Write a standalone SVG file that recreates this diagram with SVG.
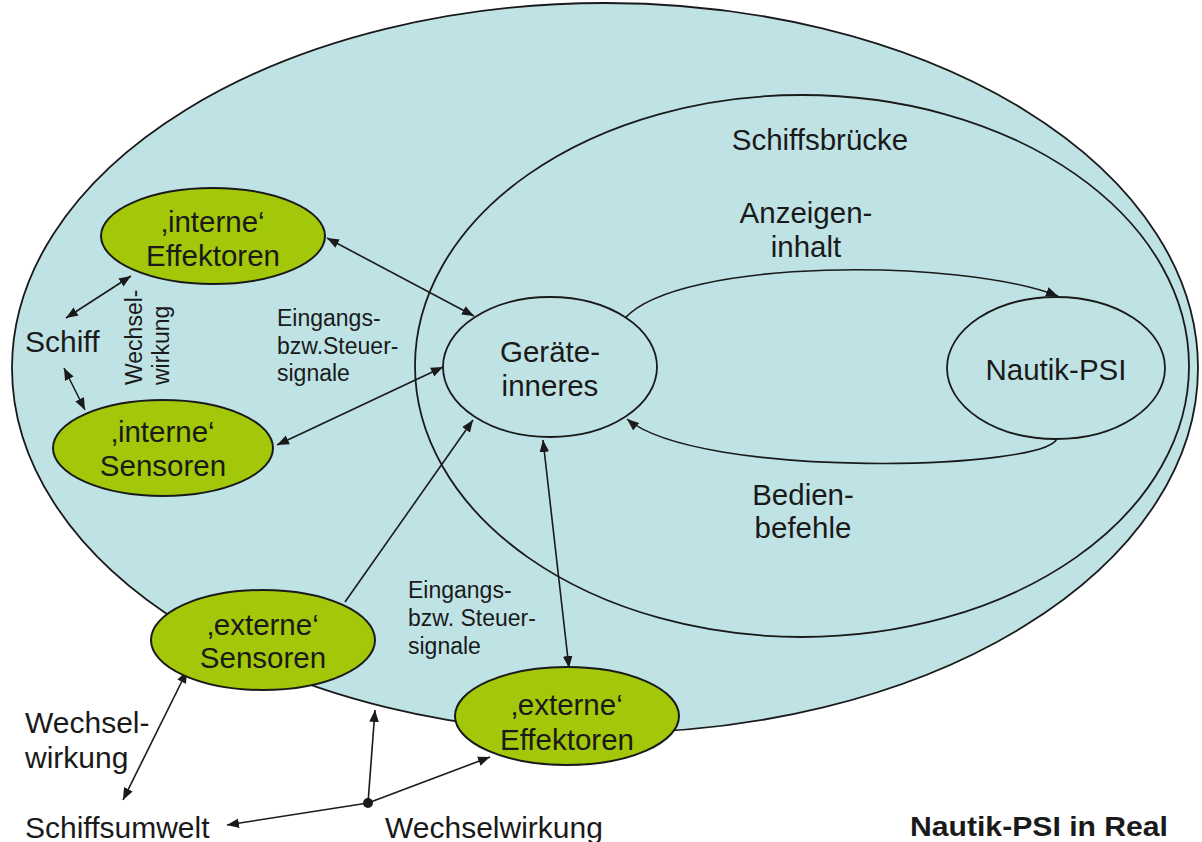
<svg xmlns="http://www.w3.org/2000/svg" width="1202" height="842" viewBox="0 0 1202 842">
<style>
text{font-family:"Liberation Sans",Arial,sans-serif;fill:#1a1a1a}
.lg{font-size:29.5px;text-anchor:middle}
.lgs{font-size:30px}
.sm{font-size:23px}
.ttl{font-size:27px;font-weight:bold}
.green{fill:#a3c709;stroke:#1a1a1a;stroke-width:2}
.plain{fill:none;stroke:#1a1a1a;stroke-width:1.8}
.conn{fill:none;stroke:#1a1a1a;stroke-width:1.6}
</style>
<defs>
<marker id="ah" viewBox="0 0 10 8" refX="10" refY="4" markerWidth="12" markerHeight="10" markerUnits="userSpaceOnUse" orient="auto-start-reverse">
<path d="M0,0 L10,4 L0,8 z" fill="#1a1a1a"/>
</marker>
</defs>
<rect width="1202" height="842" fill="#ffffff"/>
<g id="schiff-umgebung">
<ellipse cx="605" cy="368" rx="593" ry="365" fill="#bfe3e5" stroke="#1a1a1a" stroke-width="1.8"/>
</g>
<g id="schiffsbruecke">
<ellipse class="plain" cx="802" cy="366" rx="387" ry="271"/>
<text class="lg" x="820" y="150">Schiffsbrücke</text>
</g>
<g id="geraeteinneres">
<ellipse class="plain" cx="550" cy="367" rx="107" ry="70"/>
<text class="lg" x="550" y="362">Geräte-</text>
<text class="lg" x="550" y="396">inneres</text>
</g>
<g id="nautik-psi">
<ellipse class="plain" cx="1056" cy="368" rx="109" ry="71"/>
<text class="lg" x="1056" y="380">Nautik-PSI</text>
</g>
<g id="connectors">
<path class="conn" d="M625,318 C680,258 960,258 1058,296" marker-end="url(#ah)"/>
<path class="conn" d="M1057,438 C1050,470 700,480 627,419" marker-end="url(#ah)"/>
<line class="conn" x1="327" y1="238" x2="474" y2="316" marker-start="url(#ah)" marker-end="url(#ah)"/>
<line class="conn" x1="277" y1="445" x2="443" y2="367" marker-start="url(#ah)" marker-end="url(#ah)"/>
<line class="conn" x1="66" y1="318" x2="131" y2="276" marker-start="url(#ah)" marker-end="url(#ah)"/>
<line class="conn" x1="64" y1="368" x2="85" y2="410" marker-start="url(#ah)" marker-end="url(#ah)"/>
<line class="conn" x1="345" y1="602" x2="473" y2="420" marker-end="url(#ah)"/>
<line class="conn" x1="543" y1="440" x2="569" y2="668" marker-start="url(#ah)" marker-end="url(#ah)"/>
<line class="conn" x1="187" y1="671" x2="123" y2="800" marker-start="url(#ah)" marker-end="url(#ah)"/>
<line class="conn" x1="368" y1="803" x2="227" y2="825" marker-end="url(#ah)"/>
<line class="conn" x1="368" y1="803" x2="375" y2="710" marker-end="url(#ah)"/>
<line class="conn" x1="368" y1="803" x2="490" y2="757" marker-end="url(#ah)"/>
<circle cx="368" cy="803" r="5" fill="#1a1a1a"/>
</g>
<g id="interne-effektoren">
<ellipse class="green" cx="213" cy="236" rx="112" ry="48"/>
<text class="lg" x="213" y="232">‚interne‘</text>
<text class="lg" x="213" y="266">Effektoren</text>
</g>
<g id="interne-sensoren">
<ellipse class="green" cx="163" cy="448" rx="110" ry="48"/>
<text class="lg" x="163" y="442">‚interne‘</text>
<text class="lg" x="163" y="476">Sensoren</text>
</g>
<g id="externe-sensoren">
<ellipse class="green" cx="263" cy="640" rx="112" ry="50"/>
<text class="lg" x="263" y="635">‚externe‘</text>
<text class="lg" x="263" y="668">Sensoren</text>
</g>
<g id="externe-effektoren">
<ellipse class="green" cx="567" cy="716" rx="112" ry="49"/>
<text class="lg" x="567" y="715">‚externe‘</text>
<text class="lg" x="567" y="750">Effektoren</text>
</g>
<g id="schiff">
<text class="lgs" x="25" y="352">Schiff</text>
</g>
<g id="labels">
<text class="sm" transform="translate(142,385) rotate(-90)">Wechsel-</text>
<text class="sm" transform="translate(169,385) rotate(-90)">wirkung</text>
<text class="sm" x="277" y="326">Eingangs-</text>
<text class="sm" x="277" y="354">bzw.Steuer-</text>
<text class="sm" x="277" y="381">signale</text>
<text class="lg" x="806" y="223">Anzeigen-</text>
<text class="lg" x="806" y="257">inhalt</text>
<text class="lg" x="803" y="505">Bedien-</text>
<text class="lg" x="803" y="538">befehle</text>
<text class="sm" x="408" y="598">Eingangs-</text>
<text class="sm" x="408" y="626">bzw. Steuer-</text>
<text class="sm" x="408" y="654">signale</text>
<text class="lgs" x="25" y="733">Wechsel-</text>
<text class="lgs" x="25" y="768">wirkung</text>
<text class="lgs" x="25" y="838">Schiffsumwelt</text>
<text class="lgs" x="385" y="838">Wechselwirkung</text>
<text class="ttl" x="910" y="836" textLength="258" lengthAdjust="spacingAndGlyphs">Nautik-PSI in Real</text>
</g>
</svg>
